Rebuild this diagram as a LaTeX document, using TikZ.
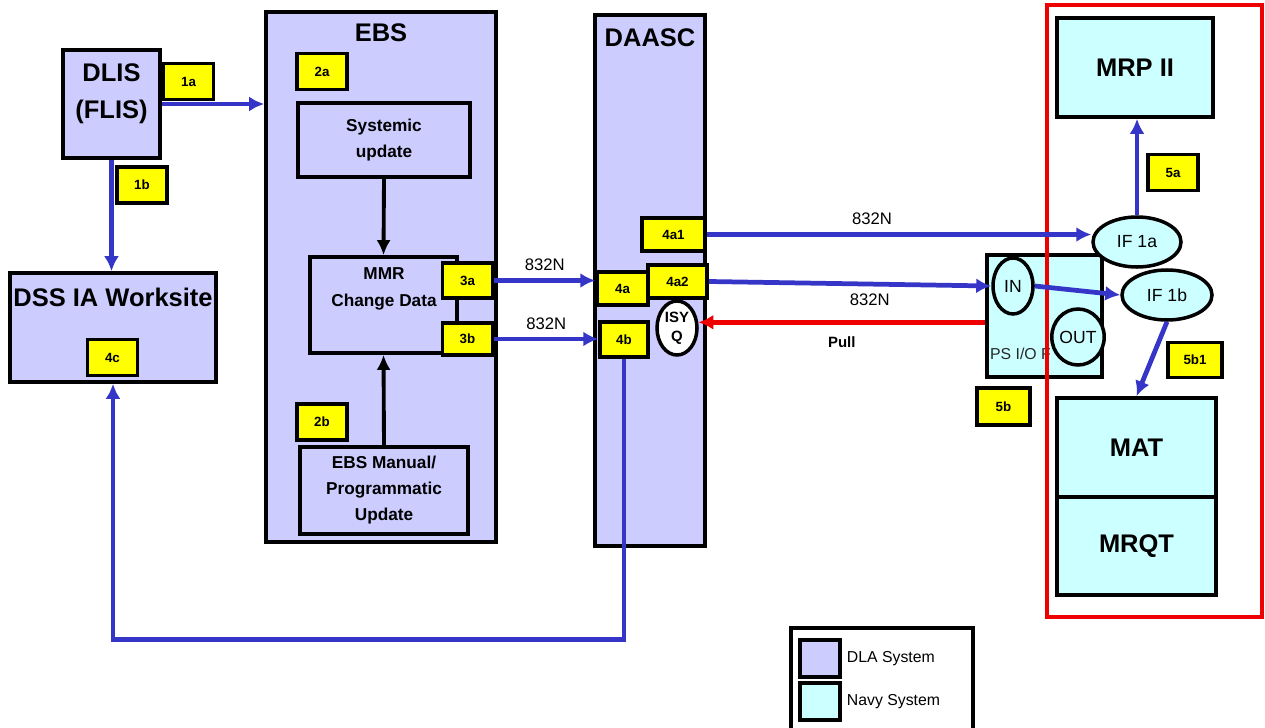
\documentclass[tikz,border=0pt]{standalone}
\usepackage{fontspec}
\setmainfont{Liberation Sans}
\usetikzlibrary{arrows.meta,positioning,shapes.geometric}
\definecolor{dlafill}{HTML}{CCCCFF}
\definecolor{navyfill}{HTML}{CCFFFF}
\definecolor{tagyellow}{HTML}{FFFF00}
\definecolor{linkblue}{HTML}{3535C8}
\definecolor{pullred}{HTML}{EE0000}
\tikzset{
  flowarrow/.style={-{Latex[length=3mm,width=3mm]}, line width=2.7pt, draw=linkblue},
  pullarrow/.style={-{Latex[length=3mm,width=3mm]}, line width=2.7pt, draw=pullred},
  ebsarrow/.style={-{Latex[length=3mm,width=2.8mm]}, line width=2.2pt, draw=black},
  dlabox/.style={draw=black, line width=2.1pt, fill=dlafill, align=center, inner sep=2pt,
    font=\fontsize{14.5}{21}\selectfont\bfseries},
  navybox/.style={draw=black, line width=2.1pt, fill=navyfill, align=center, inner sep=2pt,
    font=\fontsize{14.5}{21}\selectfont\bfseries},
  stepbox/.style={draw=black, line width=2.1pt, fill=dlafill, align=center, inner sep=2pt,
    font=\fontsize{9.8}{14.8}\selectfont\bfseries},
  bigtext/.style={align=center, inner sep=1pt, font=\fontsize{14.5}{21}\selectfont\bfseries},
  flowtag/.style={draw=black, line width=2pt, fill=tagyellow, minimum width=1.0cm,
    minimum height=0.72cm, inner sep=1pt, font=\fontsize{7.6}{9}\selectfont\bfseries},
  iface/.style={ellipse, draw=black, line width=2pt, fill=navyfill, inner sep=0pt,
    font=\fontsize{10}{12}\selectfont},
  linklabel/.style={font=\fontsize{9.5}{11}\selectfont, inner sep=1pt},
  legendtext/.style={font=\fontsize{9}{11}\selectfont, inner sep=1pt}
}

\begin{document}
\begin{tikzpicture}[x=0.2mm, y=-0.2mm]
  \useasboundingbox (0,0) rectangle (1265,727);

  % DLIS and DSS
  \node[dlabox, minimum width=1.94cm, minimum height=2.16cm] (dlis) at (111.5,104) {};
  \node[bigtext] (dlistext) at (111.5,94) {DLIS\\(FLIS)};
  \node[flowtag] (t1a) at (188.5,81.5) {1a};
  \node[flowtag] (t1b) at (142,185) {1b};
  \node[dlabox, minimum width=4.12cm, minimum height=2.18cm] (dss) at (113,327.5) {};
  \node[bigtext] (dsstext) at (113,297) {DSS IA Worksite};
  \node[flowtag] (t4c) at (112.5,357.5) {4c};

  % EBS
  \node[dlabox, minimum width=4.6cm, minimum height=10.6cm] (ebs) at (381,277) {};
  \node[bigtext] (ebstext) at (381,33) {EBS};
  \node[flowtag] (t2a) at (322,71.5) {2a};
  \node[stepbox, minimum width=3.44cm, minimum height=1.48cm] (sysupd) at (384,140) {Systemic\\update};
  \node[stepbox, minimum width=2.94cm, minimum height=1.92cm] (mmr) at (383.5,305) {};
  \node[stepbox, draw=none, fill=none, font=\fontsize{9.8}{15.3}\selectfont\bfseries] (mmrtext) at (384,289) {MMR\\Change Data};
  \node[flowtag, minimum height=0.7cm] (t3a) at (467.5,280.5) {3a};
  \node[flowtag, minimum height=0.64cm] (t3b) at (467.5,339) {3b};
  \node[flowtag] (t2b) at (322,422) {2b};
  \node[stepbox, minimum width=3.36cm, minimum height=1.74cm] (ebsman) at (384,490.5) {EBS Manual/\\Programmatic\\Update};

  % DAASC
  \node[dlabox, minimum width=2.2cm, minimum height=10.62cm] (daasc) at (650,280.5) {};
  \node[bigtext] (daasctext) at (650,38) {DAASC};
  \node[flowtag, minimum width=1.26cm, minimum height=0.66cm] (t4a1) at (673.5,234.5) {4a1};
  \node[flowtag, minimum width=1.02cm, minimum height=0.66cm] (t4a) at (622.5,288.5) {4a};
  \node[flowtag, minimum width=1.18cm, minimum height=0.66cm] (t4a2) at (677.5,281.5) {4a2};
  \node[iface, fill=white, minimum width=0.8cm, minimum height=1.08cm, align=center,
    font=\fontsize{8.5}{11}\selectfont\bfseries] (isyq) at (677,328) {ISY\\Q};
  \node[flowtag, minimum width=0.96cm, minimum height=0.7cm] (t4b) at (624,339.5) {4b};

  % PSI/O
  \node[navybox, minimum width=2.3cm, minimum height=2.44cm] (psio) at (1044.5,316) {};
  \node[iface, minimum width=0.8cm, minimum height=1.12cm] (in) at (1013,286) {IN};
  \node[iface, minimum width=0.8cm, minimum height=1.12cm] (out) at (1078,337) {OUT};
  \node[legendtext, anchor=west, text=black!85] (psiotext) at (988,354) {PS I/O F};
  \node[flowtag, minimum width=1.06cm, minimum height=0.74cm] (t5b) at (1003.5,406.5) {5b};

  % Navy side
  \node[draw=pullred, line width=2.8pt, minimum width=4.3cm, minimum height=12.24cm] (navyframe) at (1154.5,311) {};
  \node[navybox, minimum width=3.12cm, minimum height=1.98cm] (mrp) at (1135,67.5) {MRP II};
  \node[flowtag] (t5a) at (1173,172.5) {5a};
  \node[iface, minimum width=1.76cm, minimum height=1.0cm] (if1a) at (1137,242) {IF 1a};
  \node[iface, minimum width=1.8cm, minimum height=1.0cm] (if1b) at (1167,295) {IF 1b};
  \node[flowtag, minimum width=1.08cm, minimum height=0.7cm] (t5b1) at (1195,360) {5b1};
  \node[navybox, minimum width=3.18cm, minimum height=1.98cm] (mat) at (1136.5,447.5) {MAT};
  \node[navybox, minimum width=3.18cm, minimum height=1.96cm] (mrqt) at (1136.5,546) {MRQT};

  % legend
  \node[draw=black, line width=2.1pt, fill=white, minimum width=3.64cm, minimum height=2.04cm] (legend) at (882,679) {};
  \node[dlabox, minimum width=0.8cm, minimum height=0.74cm] (dlaswatch) at (820,658.5) {};
  \node[navybox, minimum width=0.8cm, minimum height=0.74cm] (navyswatch) at (820,701.5) {};
  \node[legendtext, right=0.6mm of dlaswatch] (dlalegend) {DLA System};
  \node[legendtext, right=0.6mm of navyswatch] (navylegend) {Navy System};

  % connectors
  \draw[flowarrow] (dlis.east) -- (dlis.east -| ebs.west);
  \draw[flowarrow] (dlis.south) -- (dlis.south |- dss.north);
  \draw[ebsarrow] (sysupd.south) -- (mmr.north);
  \draw[ebsarrow] (ebsman.north) -- (mmr.south);
  \draw[flowarrow] (t3a.east) -- (t3a.east -| t4a.west) node[linklabel, midway, above=3pt] {832N};
  \draw[flowarrow] (t3b.east) -- (t3b.east -| t4b.west) node[linklabel, midway, above=3pt] {832N};
  \draw[flowarrow] (t4b.south) -- ++(0,281) -| (dss.south);
  \draw[flowarrow] (t4a1.east) -- (t4a1.east -| if1a.west) node[linklabel, pos=0.43, above=3pt] {832N};
  \draw[flowarrow] (t4a2.east) -- (in.west) node[linklabel, pos=0.57, below=3pt] {832N};
  \draw[pullarrow] (psio.west |- isyq.15) -- (isyq.15)
    node[linklabel, midway, below=6pt, font=\fontsize{8.5}{10}\selectfont\bfseries] {Pull};
  \draw[flowarrow] (in.east) -- (if1b.west);
  \draw[flowarrow] (if1b.south) -- (mat.north);
  \draw[flowarrow] (if1a.north) -- (if1a.north |- mrp.south);
\end{tikzpicture}
\end{document}
